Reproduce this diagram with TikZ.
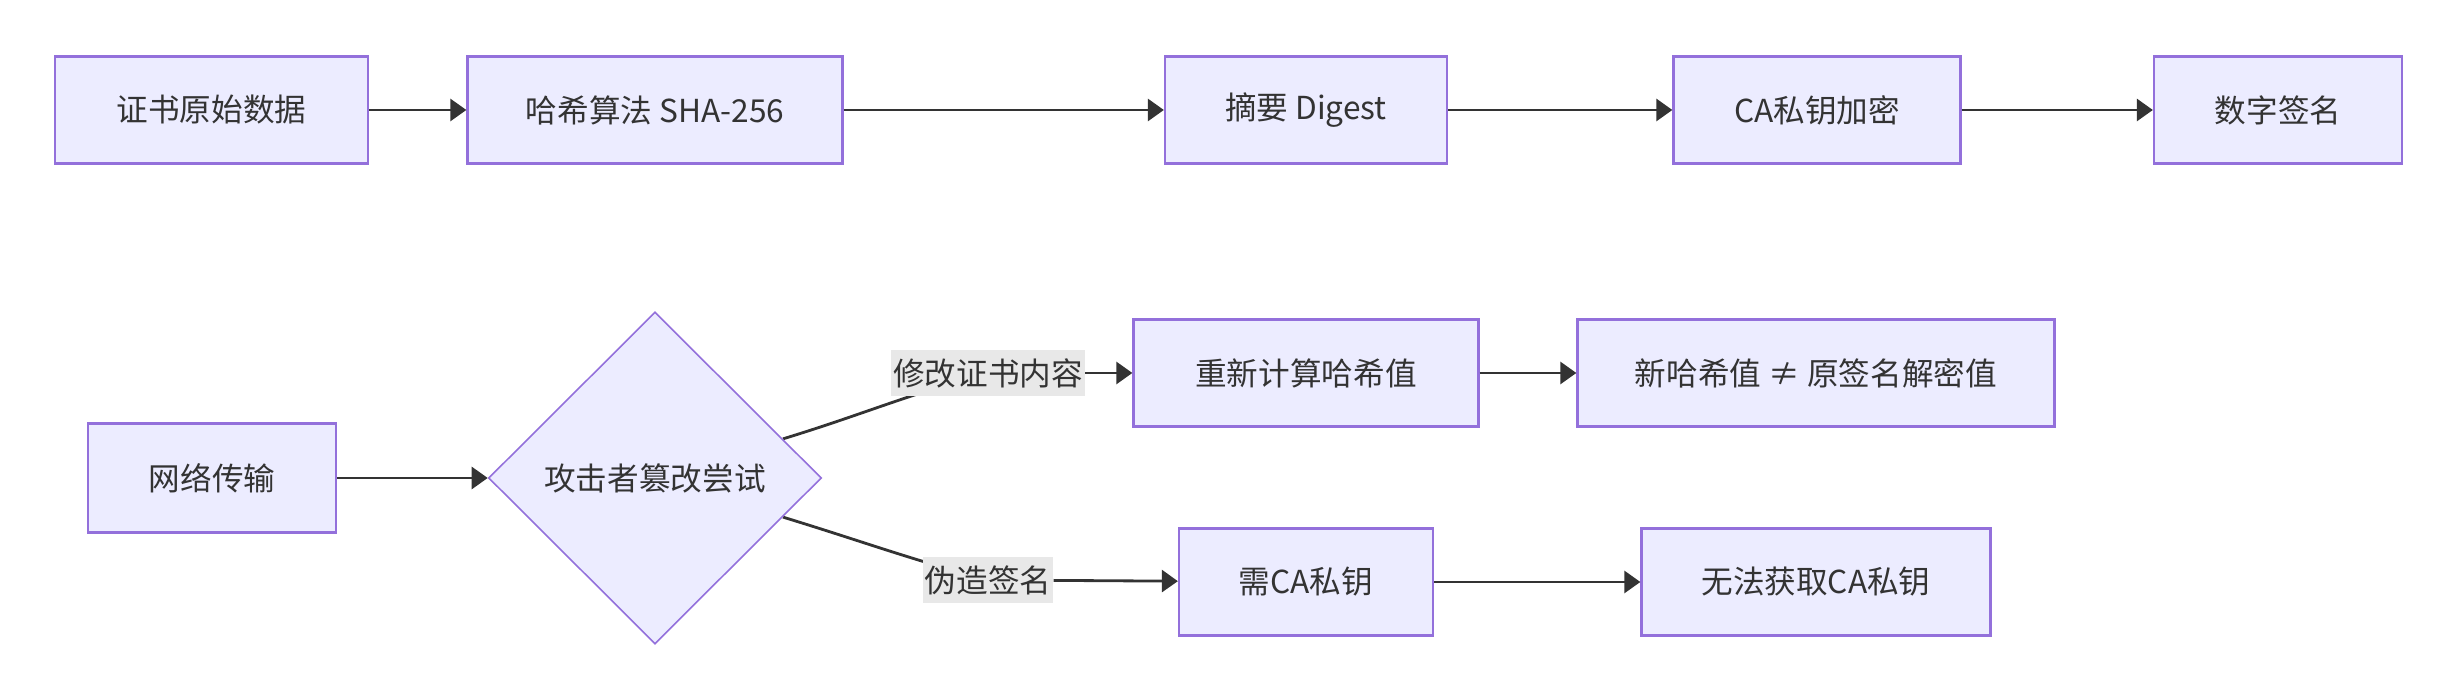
\documentclass[tikz,border=0pt]{standalone}
\usepackage{fontspec}
\setmainfont{Noto Sans CJK SC}
\usepackage{xcolor}
\usepackage{tikz}
\usetikzlibrary{shapes.geometric,arrows.meta,positioning,backgrounds}
\definecolor{boxfill}{HTML}{ECECFF}
\definecolor{boxline}{HTML}{9370DB}
\definecolor{edgeline}{HTML}{333333}
\definecolor{lblfill}{HTML}{E8E8E8}

\begin{document}
\begin{tikzpicture}[
      box/.style={draw=boxline,fill=boxfill,line width=0.65pt,minimum height=1.07cm,align=center,font=\fontsize{9pt}{11pt}\selectfont,text=edgeline},
      choice/.style={diamond,draw=boxline,fill=boxfill,line width=0.45pt,minimum width=3.33cm,minimum height=3.32cm,inner sep=0pt,font=\fontsize{9pt}{11pt}\selectfont,text=edgeline},
      lbl/.style={fill=lblfill,inner xsep=0.5pt,inner ysep=2pt,minimum height=0.46cm,font=\fontsize{9pt}{11pt}\selectfont,text=edgeline},
      flow/.style={draw=edgeline,line width=0.8pt,-{Triangle[length=0.16cm,width=0.22cm]}}
    ]
      \useasboundingbox (0,0) rectangle (24.59,6.99);
      % Signing row
      \node[box,minimum width=3.13cm] (raw) at (2.115,5.89) {证书原始数据};
      \node[box,minimum width=3.75cm] (hash) at (6.55,5.89) {哈希算法 SHA-256};
      \node[box,minimum width=2.82cm] (digest) at (13.06,5.89) {摘要 Digest};
      \node[box,minimum width=2.87cm] (encrypt) at (18.17,5.89) {CA私钥加密};
      \node[box,minimum width=2.48cm] (sign) at (22.78,5.89) {数字签名};
      \draw[flow] (raw) -- (hash);
      \draw[flow] (hash) -- (digest);
      \draw[flow] (digest) -- (encrypt);
      \draw[flow] (encrypt) -- (sign);
      % Tamper row
      \node[box,minimum width=2.48cm,minimum height=1.09cm] (net) at (2.12,2.21) {网络传输};
      \node[choice] (attack) at (6.55,2.21) {攻击者篡改尝试};
      \node[box,minimum width=3.45cm] (rehash) at (13.06,3.26) {重新计算哈希值};
      \node[box,minimum width=4.77cm] (mismatch) at (18.16,3.26) {新哈希值 ≠ 原签名解密值};
      \node[box,minimum width=2.54cm] (needkey) at (13.06,1.17) {需CA私钥};
      \node[box,minimum width=3.49cm] (nokey) at (18.16,1.17) {无法获取CA私钥};
      \node[lbl] (modify) at (9.88,3.26) {修改证书内容};
      \node[lbl] (forge) at (9.88,1.19) {伪造签名};
      \draw[flow] (net) -- (attack);
      \begin{scope}[on background layer]
        \draw[draw=edgeline,line width=0.8pt] (attack.17) to[out=17,in=195] (modify.center);
        \draw[draw=edgeline,line width=0.8pt] (attack.-17) to[out=-17,in=165] (forge.center);
      \end{scope}
      \draw[flow] (modify) -- (rehash);
      \draw[flow] (forge) -- (needkey);
      \draw[flow] (rehash) -- (mismatch);
      \draw[flow] (needkey) -- (nokey);
    \end{tikzpicture}
\end{document}
